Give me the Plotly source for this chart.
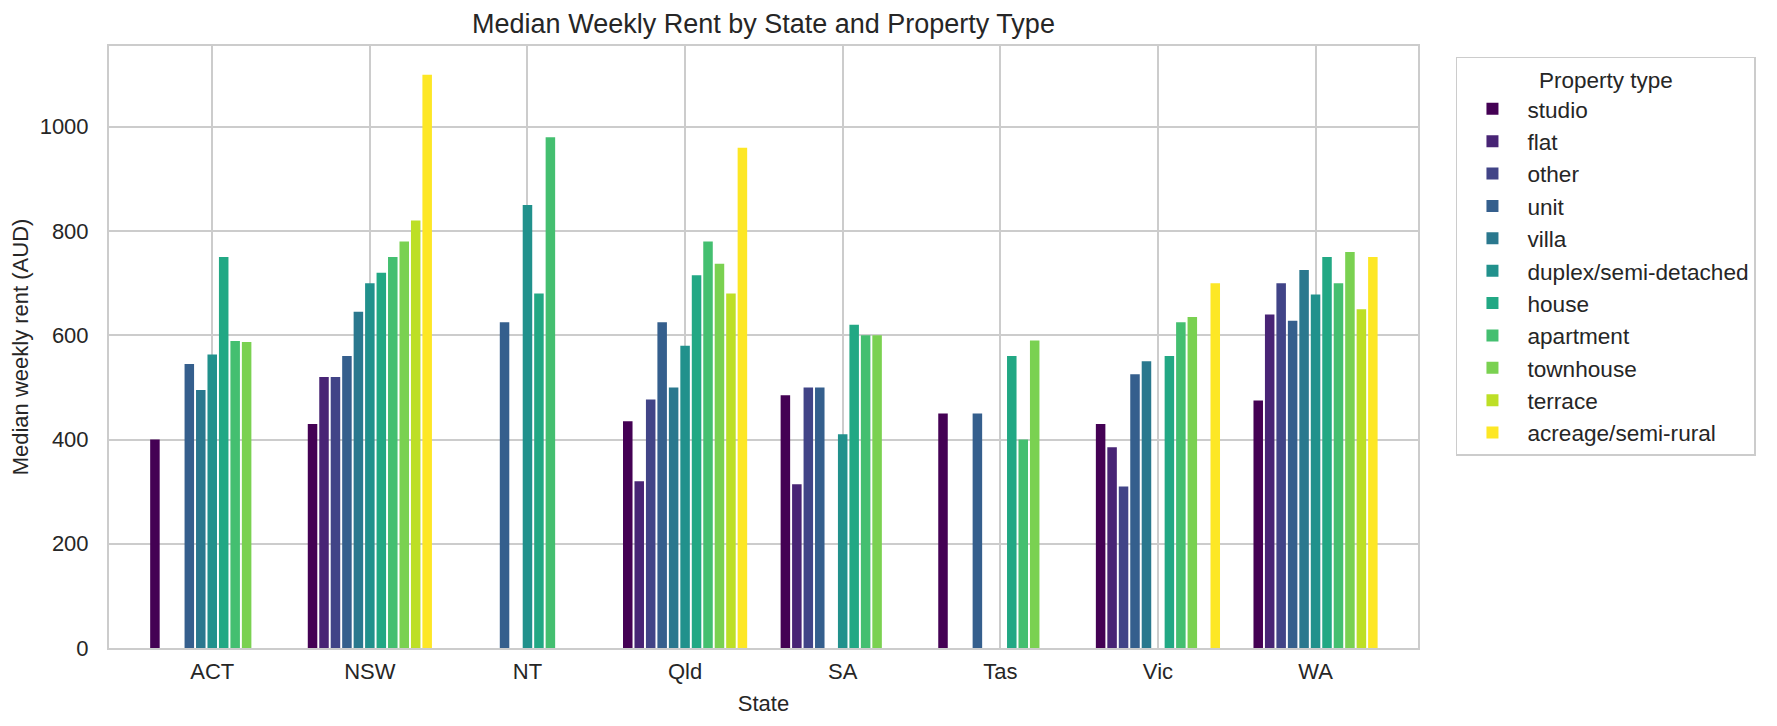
import plotly.graph_objects as go

states = ["ACT", "NSW", "NT", "Qld", "SA", "Tas", "Vic", "WA"]
property_types = ["studio", "flat", "other", "unit", "villa", "duplex/semi-detached",
                  "house", "apartment", "townhouse", "terrace", "acreage/semi-rural"]
colors = ["#440154", "#482475", "#414487", "#355f8d", "#2a788e", "#21918c",
          "#22a884", "#44bf70", "#7ad151", "#bddf26", "#fde725"]

# Median weekly rent (AUD), one list per property type, ordered as `states`
studio = [400, 430, None, 435, 485, 450, 430, 475]
flat = [None, 520, None, 320, 314, None, 385, 640]
other = [None, 520, None, 477, 500, None, 310, 700]
unit = [545, 560, 625, 625, 500, 450, 525, 628]
villa = [495, 645, None, 500, None, None, 550, 725]
duplex = [563, 700, 850, 580, 410, None, None, 678]
house = [750, 720, 680, 715, 620, 560, 560, 750]
apartment = [589, 750, 980, 780, 600, 400, 625, 700]
townhouse = [587, 780, None, 737, 600, 590, 635, 760]
terrace = [None, 820, None, 680, None, None, None, 650]
acreage = [None, 1100, None, 960, None, None, 700, 750]

series = [studio, flat, other, unit, villa, duplex, house, apartment,
          townhouse, terrace, acreage]

FONT = "Liberation Sans, Arial, Helvetica, sans-serif"
TXT = "#262626"
GRID = "#cccccc"

# the page body has an 8px default margin, so the figure is sized to fit inside it
W, H = 1761, 710

fig = go.Figure()
for name, vals, col in zip(property_types, series, colors):
    fig.add_trace(go.Bar(x=states, y=vals, name=name, marker_color=col,
                         marker_line_width=0))

fig.update_layout(
    width=W, height=H,
    margin=dict(l=101, r=351, t=38, b=70, autoexpand=False),
    paper_bgcolor="white", plot_bgcolor="white",
    barmode="group", bargap=0.2, bargroupgap=0.17,
    font=dict(family=FONT, size=22, color=TXT),
    title=dict(text="Median Weekly Rent by State and Property Type",
               font=dict(size=27, color=TXT), x=0.5, xref="paper",
               xanchor="center", y=1 - 16 / H, yref="container", yanchor="middle"),
    legend=dict(title=dict(text="Property type", side="top center",
                           font=dict(size=22.5, color=TXT)),
                x=1.029, y=0.982, xanchor="left", yanchor="top",
                bordercolor=GRID, borderwidth=1.5, bgcolor="white",
                font=dict(size=22.6, color=TXT), tracegroupgap=0,
                itemwidth=60),
)
fig.update_xaxes(type="category", range=[-0.655, 7.65], automargin=False,
                 showgrid=True, gridcolor=GRID, gridwidth=1.6,
                 showline=True, linecolor=GRID, linewidth=2, mirror=True,
                 ticks="", ticklabelstandoff=3,
                 title=dict(text="State", standoff=12, font=dict(size=22, color=TXT)))
fig.update_yaxes(range=[0, 1155], tickvals=[0, 200, 400, 600, 800, 1000],
                 automargin=False,
                 showgrid=True, gridcolor=GRID, gridwidth=1.6,
                 showline=True, linecolor=GRID, linewidth=2, mirror=True,
                 zeroline=False, ticks="", ticklabelstandoff=14,
                 title=dict(text="Median weekly rent (AUD)", standoff=6,
                            font=dict(size=22, color=TXT)))

fig.write_html("out.html")
